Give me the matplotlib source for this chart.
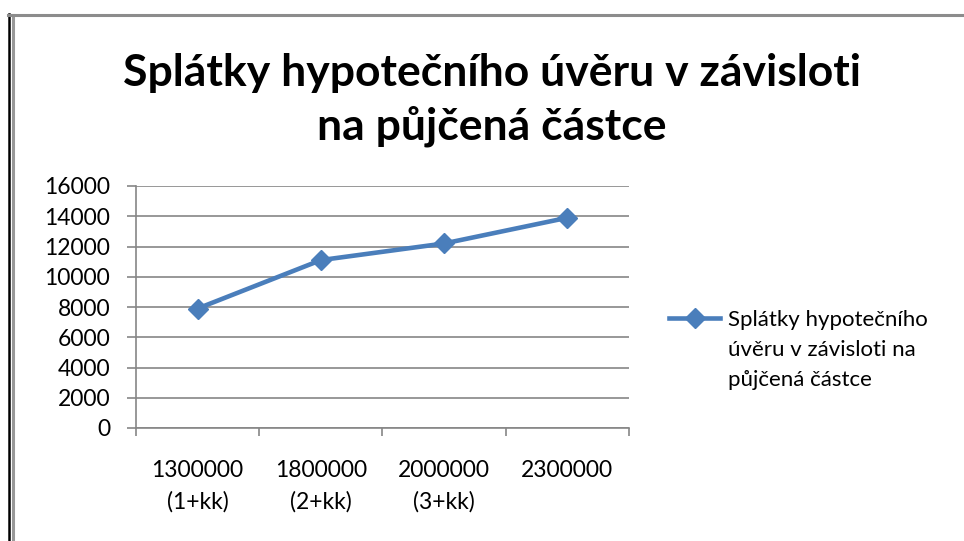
import matplotlib.pyplot as plt
from matplotlib.lines import Line2D

# Data
categories = ['1300000\n(1+kk)', '1800000\n(2+kk)', '2000000\n(3+kk)', '2300000']
splatky = [7900, 11100, 12200, 13900]
series_name = 'Splátky hypotečního\núvěru v závisloti na\npůjčená částce'
title = 'Splátky hypotečního úvěru v závisloti\nna půjčená částce'

plt.rcParams['font.family'] = ['Lato', 'DejaVu Sans']

fig = plt.figure(figsize=(9.64, 5.41), dpi=100)
ax = fig.add_axes([136 / 964, 1 - 428 / 541, (629 - 136) / 964, (428 - 186) / 541])

x = list(range(len(categories)))
line, = ax.plot(x, splatky, color='#4A7EBB', lw=3.3, marker='D', markersize=10,
                label=series_name)

ax.set_xlim(-0.5, len(categories) - 0.5)
ax.set_ylim(0, 16000)
ax.set_yticks(range(0, 16001, 2000))
ax.set_xticks(x)
ax.set_xticklabels(categories, fontsize=16.5, linespacing=1.6)
ax.set_xticks([i - 0.5 for i in range(len(categories) + 1)], minor=True)
ax.tick_params(axis='x', which='major', length=0, pad=23)
ax.tick_params(axis='x', which='minor', length=6, color='#868686', width=1.2)
ax.tick_params(axis='y', length=6.5, color='#868686', width=1.2, labelsize=16.5, pad=12)

ax.grid(axis='y', color='#868686', lw=1.2)
ax.set_axisbelow(True)
for s in ['top', 'right']:
    ax.spines[s].set_visible(False)
for s in ['left', 'bottom']:
    ax.spines[s].set_color('#868686')
    ax.spines[s].set_linewidth(1.2)

fig.text(492 / 964, 1 - 100 / 541, title, ha='center', va='center',
         fontsize=32, fontweight='bold', linespacing=1.35)

leg = fig.legend(handles=[line], loc='upper left', bbox_to_anchor=(649 / 964, 1 - 290 / 541),
                 frameon=False, handlelength=2.3, handletextpad=0.35,
                 labelspacing=0, prop={'size': 16})
for t in leg.get_texts():
    t.set_linespacing(1.62)
# put the legend line next to the first text line, like Excel does
for col in leg._legend_handle_box.get_children():
    for row in col.get_children():
        row.align = 'top'

# Chart frame
fig.add_artist(Line2D([8.5 / 964, 8.5 / 964], [0, 1 - 14 / 541], color='black', lw=1.8))
fig.add_artist(Line2D([13 / 964, 13 / 964], [0, 1 - 15 / 541], color='#999999', lw=2.2))
fig.add_artist(Line2D([8 / 964, 1], [1 - 15 / 541, 1 - 15 / 541], color='#8c8c8c', lw=2.2))

fig.savefig('out.png', dpi=100)
